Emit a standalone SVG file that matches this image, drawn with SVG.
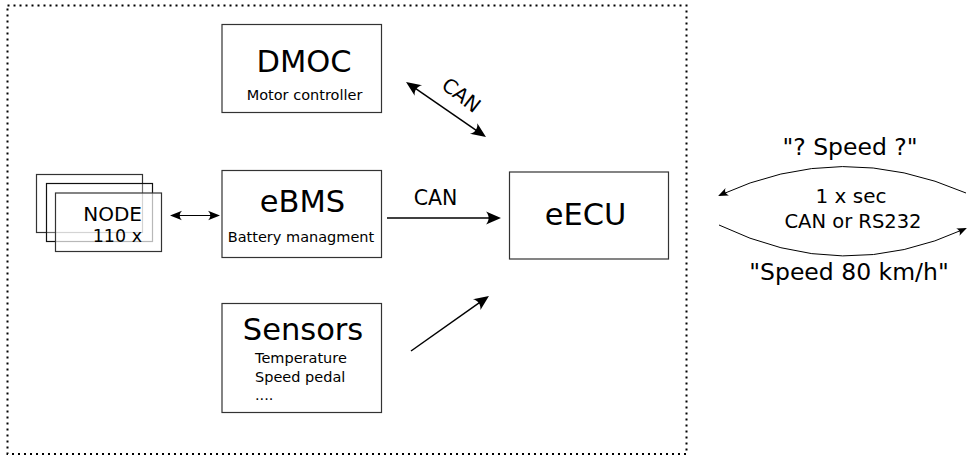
<svg xmlns="http://www.w3.org/2000/svg" width="967" height="456" viewBox="0 0 967 456">
<style>
text{font-family:"DejaVu Sans","Liberation Sans",sans-serif;fill:#000}
.box{fill:#fff;stroke:#333;stroke-width:1.2}
.big{font-size:30.5px;text-anchor:middle}
.sub{font-size:14.5px}
.mid{text-anchor:middle}
.con{fill:none;stroke:#000;stroke-width:1.5}
.thin{fill:none;stroke:#000;stroke-width:1}
</style>
<defs>
<marker id="aL" markerUnits="userSpaceOnUse" viewBox="-17 -8 20 16" markerWidth="20" markerHeight="16" refX="-3" refY="0" orient="auto-start-reverse">
<path d="M0,0 L-15,-6.5 C-11.5,-2.5 -11.5,2.5 -15,6.5 Z" fill="#000"/>
</marker>
<marker id="aS" markerUnits="userSpaceOnUse" viewBox="-14 -6 16 12" markerWidth="16" markerHeight="12" refX="-2" refY="0" orient="auto-start-reverse">
<path d="M0,0 L-12,-4.8 C-9,-1.8 -9,1.8 -12,4.8 Z" fill="#000"/>
</marker>
<marker id="aT" markerUnits="userSpaceOnUse" viewBox="-12 -6 14 12" markerWidth="14" markerHeight="12" refX="-1.5" refY="0" orient="auto-start-reverse">
<path d="M0,0 L-10,-4 C-7.5,-1.5 -7.5,1.5 -10,4 Z" fill="#000"/>
</marker>
</defs>
<rect x="7.5" y="5.5" width="679" height="448.5" fill="none" stroke="#000" stroke-width="2" stroke-dasharray="2,4"/>
<g id="dmoc">
<rect class="box" x="222" y="24.5" width="159.5" height="88"/>
<text class="big" x="304" y="72">DMOC</text>
<text class="sub mid" x="304.5" y="100">Motor controller</text>
</g>
<g id="ebms">
<rect class="box" x="222" y="170.5" width="159.5" height="87"/>
<text class="big" x="302.5" y="212">eBMS</text>
<text class="sub mid" x="301" y="242">Battery managment</text>
</g>
<g id="eecu">
<rect class="box" x="509.5" y="172" width="159" height="87"/>
<text class="big" x="585.5" y="225">eECU</text>
</g>
<g id="sensors">
<rect class="box" x="222" y="303.5" width="159.5" height="109"/>
<text class="big" x="303" y="340">Sensors</text>
<text class="sub" x="255" y="363">Temperature</text>
<text class="sub" x="255" y="381.5">Speed pedal</text>
<text class="sub" x="255" y="400">....</text>
</g>
<g id="node">
<rect x="36.5" y="174.5" width="106" height="58" fill="none" stroke="#333" stroke-width="1.2"/>
<rect x="46.5" y="183.5" width="106" height="58" fill="#fff" fill-opacity="0.3" stroke="#111" stroke-width="1.2"/>
<rect x="55.5" y="193" width="106" height="58.5" fill="#fff" fill-opacity="0.7" stroke="#333" stroke-width="1.2"/>
<text x="142" y="221" font-size="20" text-anchor="end">NODE</text>
<text x="142" y="242" font-size="17.5" text-anchor="end">110 x</text>
</g>
<g id="connectors">
<line class="con" x1="408.5" y1="83.7" x2="483.5" y2="135.3" marker-start="url(#aL)" marker-end="url(#aL)"/>
<text x="457" y="100.5" font-size="20" text-anchor="middle" transform="rotate(38 457 100.5)">CAN</text>
<line class="thin" x1="172" y1="215.5" x2="218" y2="215.5" marker-start="url(#aS)" marker-end="url(#aS)" stroke-width="1.2"/>
<line class="con" x1="387" y1="218" x2="498" y2="218" marker-end="url(#aL)"/>
<text x="435.5" y="205" font-size="20.5" text-anchor="middle">CAN</text>
<line class="con" x1="411" y1="351" x2="486.5" y2="297.7" marker-end="url(#aL)"/>
<path class="thin" d="M966,193 Q842,139 719.5,195.3" marker-end="url(#aT)"/>
<path class="thin" d="M719,225 Q843,285 965.5,228.6" marker-end="url(#aT)"/>
<text x="850" y="155" font-size="23.5" text-anchor="middle">"? Speed ?"</text>
<text x="851" y="202.5" font-size="20" text-anchor="middle">1 x sec</text>
<text x="853" y="227.5" font-size="19.5" text-anchor="middle">CAN or RS232</text>
<text x="849" y="280" font-size="23.5" text-anchor="middle">"Speed 80 km/h"</text>
</g>
</svg>
